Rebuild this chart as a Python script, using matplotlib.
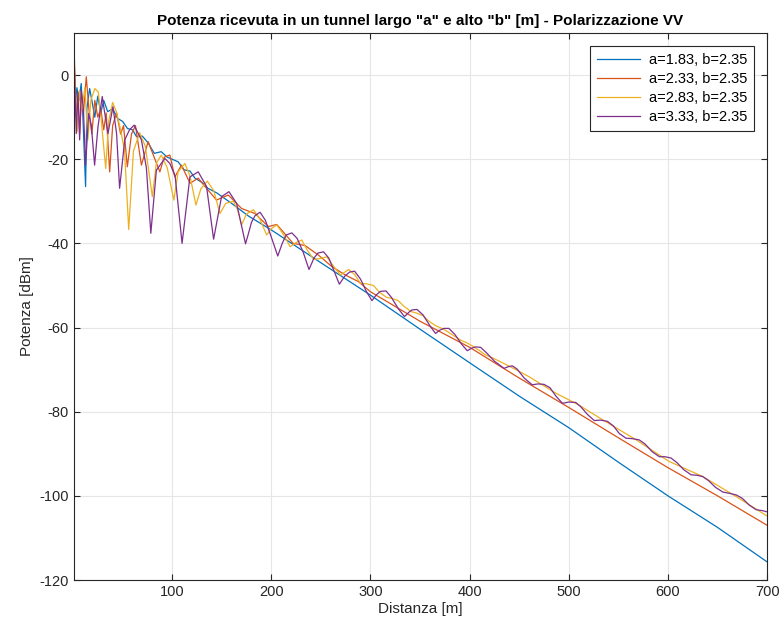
import matplotlib
matplotlib.use("Agg")
import matplotlib.pyplot as plt

plt.rcParams.update({
    "font.family": ["Liberation Sans", "DejaVu Sans"],
    "font.size": 10,
    "axes.linewidth": 0.8,
    "axes.unicode_minus": False,
    "xtick.direction": "in",
    "ytick.direction": "in",
})

LABELS = ["a=1.83, b=2.35", "a=2.33, b=2.35", "a=2.83, b=2.35", "a=3.33, b=2.35"]
COLORS = ["#0072BD", "#D95319", "#EDB120", "#7E2F8E"]

# a=1.83
x_a183 = [1, 2, 4, 6, 8.3, 10, 12.7, 14, 16.8, 19, 22, 25, 28, 31, 35, 40, 45, 50, 55,
          60, 64, 70, 76, 82, 89, 95, 100, 106, 112, 118, 123, 130, 136, 145, 160, 177,
          200, 250, 300, 350, 409, 450, 500, 550, 600, 650, 700]
y_a183 = [4, -8, -3, -6, -2, -10, -26.5, -8, -3.2, -6, -10, -5, -9, -6, -8.7, -8, -10.3, -11, -12.7,
          -13, -14.6, -14.5, -16.2, -18.6, -18.2, -19.5, -20, -20.6, -22.5, -22.8, -24.5, -25.5, -26.9, -28, -30.5, -33.5,
          -36.8, -44.6, -52.3, -60.4, -69.8, -76.3, -83.8, -92.0, -100.0, -107.5, -115.7]

# a=2.33
x_a233 = [1, 2, 3.5, 5, 6.7, 8.5, 10.5, 13.4, 16, 19, 22, 25, 28, 31, 33.5, 37, 40, 44, 48, 51,
          54.8, 59, 63, 69, 75.8, 81, 87.6, 92, 97.7, 102.7, 109.4, 118, 126.3, 135, 144.8, 156.6,
          170, 183.6, 197, 205.5, 222, 234, 247.6, 261, 274.6, 288, 300, 350, 400, 450, 500, 550,
          600, 650, 700]
y_a233 = [7.5, -1, -10, -5, -14, -6, -9, -0.4, -8, -14, -6, -10, -8, -13, -9, -23, -12, -9, -14, -12,
          -21.8, -14, -12, -21.4, -15.8, -19, -23, -19.5, -19, -24.2, -21.4, -25.7, -24.5, -27, -29.7, -28.5,
          -31.7, -32.9, -36, -35.5, -40, -40.5, -42.8, -45.5, -47.5, -49.1, -51.5, -58.5, -64.7, -72, -79, -86.2,
          -93.3, -100, -107]

# a=2.83
x_a283 = [1, 4.2, 6.7, 9, 12, 15, 18, 22, 25.5, 28.5, 33, 36, 40, 43.7, 48, 52, 56.2, 61, 67.3, 73,
          80, 84, 89, 95, 101.7, 106, 112.8, 118, 124, 129, 135.5, 142, 148.2, 154, 161.7, 166, 170,
          175, 182, 188, 195.3, 200, 205.5, 212, 219, 225, 230.7, 236, 242.6, 249, 256, 263, 269.6, 278,
          284, 290, 296, 303, 309, 316, 322, 328, 334, 341, 347, 353, 359, 366, 372, 378, 385, 391, 397,
          403, 410, 416, 423, 430, 445, 460, 487, 510, 534, 568, 601, 635, 669, 700]
y_a283 = [4, -13.5, -3.6, -8, -3, -15.4, -6, -3.2, -4, -10.7, -22.2, -11, -6.5, -8.7, -13, -18, -36.7, -18, -13.7, -17,
          -28.9, -21, -19, -22, -29.7, -23, -21, -24, -30.9, -27, -25.2, -27.5, -32.9, -30.5, -30, -32, -35.6,
          -33, -32, -34, -38, -36.5, -35.6, -37.8, -40.8, -39.8, -39.2, -41.5, -43.8, -43.6, -43.2, -45.5, -47.5, -46.2,
          -47.4, -49.5, -49.6, -50, -51.6, -52.8, -53.1, -53.6, -55, -56.2, -56.6, -57.2, -58.5, -59.6, -60.2, -61, -62.1, -63, -63.6,
          -64.4, -65.5, -66.5, -67.2, -68, -69.8, -71.7, -75.6, -78.4, -81.9, -86.7, -91.8, -95.4, -100.2, -104.8]

# a=3.33
x_a333 = [1, 3.3, 5, 6.7, 8.3, 10.5, 12.7, 15.8, 18.5, 21.8, 25.2, 29.5, 32, 35.3, 40.3, 44, 47, 52.2,
          57, 61.6, 69, 74, 78.5, 84.1, 92.6, 97.7, 103, 110, 117.9, 126.3, 134.7, 141.8, 149.8, 157.3,
          165, 174, 177, 180, 183.6, 188.7, 194, 200, 206.5, 211, 215, 220.7, 226, 232, 238, 243, 247,
          252.7, 258, 264, 268.6, 274, 279, 284, 290, 296, 301.5, 306, 310, 315.7, 321, 328, 334.3, 339,
          342, 347, 353, 360, 365.6, 370, 374, 379, 385, 392, 397.6, 402, 406, 411, 417, 425, 434.7, 439,
          443, 448, 455, 463, 469, 475, 481, 487, 493.6, 500, 507, 512, 519, 525.7, 532, 539, 545, 551,
          557.7, 564, 571, 577, 584, 591.4, 597, 603, 609, 616, 623.4, 629, 635, 641, 648, 655.4, 662,
          669, 675, 682, 689, 695, 700]
y_a333 = [5.5, -13.9, -4, -15.4, -3.6, -8, -21.5, -9.1, -12, -21.4, -12.3, -5.1, -9, -13.9, -7.5, -14, -26.9, -15.4,
          -13, -11.9, -15.4, -22, -37.6, -22.6, -19.8, -21, -24, -40, -24.2, -23, -26.5, -39, -28.9, -27.7,
          -30.5, -40.1, -37.6, -35, -33.4, -32.6, -34.5, -38.5, -43, -40, -38, -37.5, -38.8, -42, -46.2, -43.5, -42.3,
          -42, -43.5, -47, -49.7, -47.8, -46.8, -46.6, -48.5, -51.5, -53.6, -52.2, -51.4, -51.3, -52.8, -55.5, -57.4, -56.3,
          -55.8, -55.7, -57, -59.6, -61.4, -60.6, -60.2, -60.2, -61.6, -64, -65.5, -64.9, -64.6, -64.7, -66, -68, -69.7, -69.3,
          -69.1, -69.9, -72, -73.6, -73.4, -73.5, -74.3, -76.3, -78, -77.7, -77.8, -78.8, -80.7, -82.1, -82.0, -82.3, -83.4, -85.2,
          -86.3, -86.4, -86.7, -87.7, -89.5, -90.7, -90.7, -91, -92.1, -93.8, -95, -95.1, -95.4, -96.4, -98, -99.1, -99.4,
          -99.8, -100.6, -102.2, -103.3, -103.5, -103.8]

fig = plt.figure(figsize=(7.82, 6.35), dpi=100)
ax = fig.add_axes([0.0946, 0.0866, 0.8864, 0.8614])

series = [(x_a183, y_a183), (x_a233, y_a233), (x_a283, y_a283), (x_a333, y_a333)]
for (xs, ys), lab, col in zip(series, LABELS, COLORS):
    ax.plot(xs, ys, color=col, lw=0.9, label=lab)

ax.set_xlim(1, 700)
ax.set_ylim(-120, 10)
ax.set_xticks(range(100, 701, 100))
ax.set_yticks(range(-120, 1, 20))
ax.grid(True, color="#e6e6e6", lw=0.8)
ax.set_axisbelow(True)
for s in ax.spines.values():
    s.set_color("#262626")
ax.tick_params(colors="#262626", labelsize=10.5, top=True, right=True, length=4)

ax.set_xlabel("Distanza [m]", fontsize=11, color="#262626", labelpad=2)
ax.set_ylabel("Potenza [dBm]", fontsize=11, color="#262626", labelpad=4)
ax.set_title('Potenza ricevuta in un tunnel largo "a" e alto "b" [m] - Polarizzazione VV',
             fontsize=11, fontweight="bold", pad=6)

leg = ax.legend(loc="upper right", fancybox=False, edgecolor="#262626", framealpha=1,
                fontsize=10.5, borderaxespad=0.9, handlelength=3.0, labelspacing=0.35,
                borderpad=0.45, handletextpad=0.6)
leg.get_frame().set_linewidth(0.8)

fig.savefig("out.png", dpi=100)
